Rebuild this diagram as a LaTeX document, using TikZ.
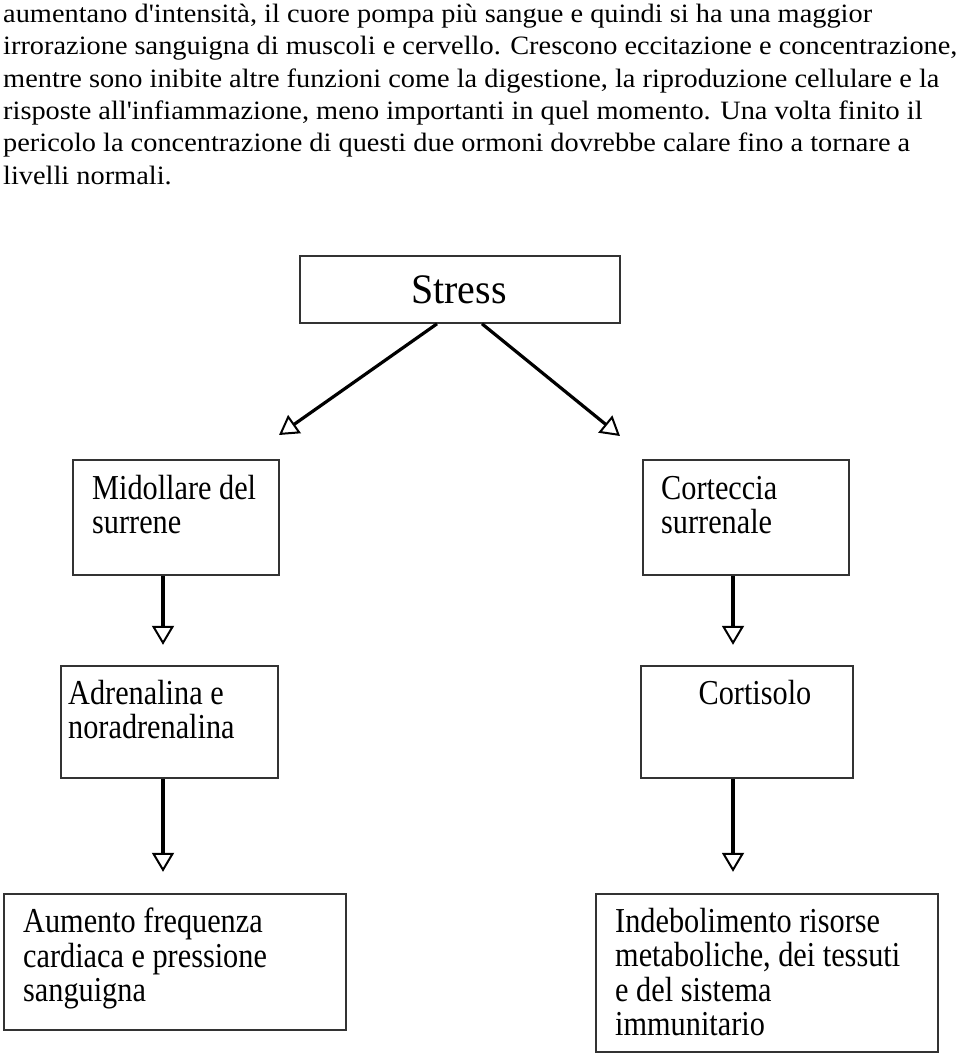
\documentclass[tikz,border=0pt]{standalone}
\usepackage{fontspec}
\setmainfont{Liberation Serif}[FakeStretch=0.865]
\newfontfamily\stressfont{Liberation Serif}[FakeStretch=0.95]
\newfontfamily\parafont{Liberation Serif}[FakeStretch=1.07]
\usetikzlibrary{arrows.meta,calc}
\begin{document}
\begin{tikzpicture}[x=1pt,y=-1pt,
  box/.style={draw=black!80, line width=1.8pt, inner sep=0pt, anchor=north west},
  lbl/.style={anchor=north west, inner sep=0pt, align=left, font=\fontsize{35}{34.5}\selectfont},
  para/.style={anchor=north west, inner sep=0pt, align=left, font=\parafont\fontsize{26.5}{32.3}\selectfont},
  arr/.style={line width=3.2pt, -{Triangle[open, width=22pt, length=19pt, line width=2pt]}}]
\useasboundingbox[fill=white] (0,0) rectangle (960,1054);

\node[para] (txt) at (3,4) {aumentano d'intensità, il cuore pompa più sangue e quindi si ha una maggior\\
irrorazione sanguigna di muscoli e cervello. Crescono eccitazione e concentrazione,\\
mentre sono inibite altre funzioni come la digestione, la riproduzione cellulare e la\\
risposte all'infiammazione, meno importanti in quel momento. Una volta finito il\\
pericolo la concentrazione di questi due ormoni dovrebbe calare fino a tornare a\\
livelli normali.};

% boxes
\node[box, minimum width=320pt, minimum height=67pt] (stress) at (299,255) {};
\node[box, minimum width=206pt, minimum height=115pt] (mid) at (72,459) {};
\node[box, minimum width=206pt, minimum height=115pt] (cort) at (642,459) {};
\node[box, minimum width=217pt, minimum height=112pt] (adr) at (60,665) {};
\node[box, minimum width=212pt, minimum height=112pt] (cis) at (640,665) {};
\node[box, minimum width=342pt, minimum height=136pt] (aum) at (3,893) {};
\node[box, minimum width=342pt, minimum height=158pt] (ind) at (595,893) {};

% labels
\node[anchor=base, inner sep=0pt, font=\stressfont\fontsize{42}{42}\selectfont] (tstress) at (459,303) {Stress};
\node[lbl] (tmid) at (92,475) {Midollare del\\surrene};
\node[lbl] (tcort) at (661,476) {Corteccia\\surrenale};
\node[lbl] (tadr) at (68,680) {Adrenalina e\\noradrenalina};
\node[anchor=base, inner sep=0pt, font=\fontsize{35}{34.5}\selectfont] (tcis) at (755,704) {Cortisolo};
\node[lbl] (taum) at (23,908) {Aumento frequenza\\cardiaca e pressione\\sanguigna};
\node[lbl] (tind) at (615,908) {Indebolimento risorse\\metaboliche, dei tessuti\\e del sistema\\immunitario};

% arrow tips
\coordinate (p1) at (279,435);
\coordinate (p2) at (620,436);
\coordinate (p3) at ($(mid.south west)+(91,69)$);
\coordinate (p4) at ($(cort.south west)+(91,69)$);
\coordinate (p5) at ($(adr.south west)+(103,93)$);
\coordinate (p6) at ($(cis.south west)+(93,93)$);

\draw[arr] ($(stress.south west)+(138,0)$) -- (p1);
\draw[arr] ($(stress.south west)+(183,0)$) -- (p2);
\draw[arr] ($(mid.south west)+(91,0)$) -- (p3);
\draw[arr] ($(cort.south west)+(91,0)$) -- (p4);
\draw[arr] ($(adr.south west)+(103,0)$) -- (p5);
\draw[arr] ($(cis.south west)+(93,0)$) -- (p6);
\end{tikzpicture}
\end{document}
